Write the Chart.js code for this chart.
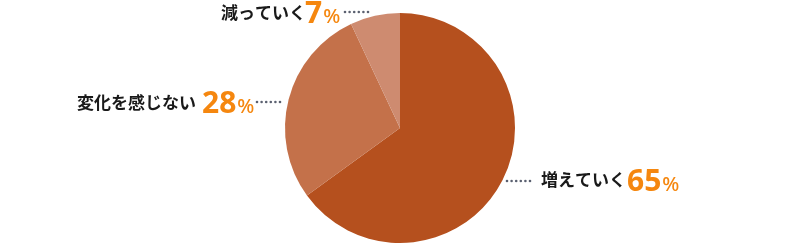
<!DOCTYPE html>
<html><head><meta charset="utf-8">
<script src="https://cdn.jsdelivr.net/npm/chart.js@4"></script>
<style>html,body{margin:0;padding:0;background:#fff;}#wrap{width:800px;height:244px;}</style>
</head><body><div id="wrap"><canvas id="c" width="800" height="244"></canvas></div>
<script>
const categories = ['増えていく', '変化を感じない', '減っていく'];
const values = [65, 28, 7];
const colors = ['#B5501E', '#C4714A', '#CE8B70'];

// label anchors (left x relative to pie centre; y in px)
const labelPos = [
  {dots: [107, 181], text: [141, 179.5], num: [227, 191]},
  {dots: [-143, 102], text: [-323, 102.5], num: [-198, 113]},
  {dots: [-55, 12], text: [-179, 12.5], num: [-95, 23]}
];

const labelPlugin = {
  id: 'labels',
  afterDraw(chart) {
    const ctx = chart.ctx;
    const meta = chart.getDatasetMeta(0);
    const cx = meta.data[0].x;
    ctx.save();
    ctx.textAlign = 'left';
    categories.forEach((cat, i) => {
      const p = labelPos[i];
      ctx.fillStyle = '#5A6070';
      for (let k = 0; k < 6; k++) {
        ctx.beginPath();
        ctx.arc(cx + p.dots[0] + k * 4.6, p.dots[1], 1.3, 0, Math.PI * 2);
        ctx.fill();
      }
      ctx.textBaseline = 'middle';
      ctx.fillStyle = '#1a1a1a';
      ctx.font = 'bold 17px "Noto Sans CJK JP"';
      ctx.fillText(cat, cx + p.text[0], p.text[1]);
      ctx.textBaseline = 'alphabetic';
      ctx.fillStyle = '#F5870F';
      ctx.font = 'bold 30px "Noto Sans"';
      const s = String(values[i]);
      const w = ctx.measureText(s).width;
      ctx.fillText(s, cx + p.num[0], p.num[1]);
      ctx.font = '500 20px "Noto Sans"';
      ctx.fillText('%', cx + p.num[0] + w + 1, p.num[1]);
    });
    ctx.restore();
  }
};

new Chart(document.getElementById('c'), {
  type: 'pie',
  data: {
    labels: categories,
    datasets: [{ data: values, backgroundColor: colors, borderWidth: 0, hoverOffset: 0 }]
  },
  options: {
    responsive: false,
    animation: false,
    layout: { padding: { top: 13, bottom: 1, left: 0, right: 0 } },
    plugins: { legend: { display: false }, tooltip: { enabled: false } }
  },
  plugins: [labelPlugin]
});
</script></body></html>
